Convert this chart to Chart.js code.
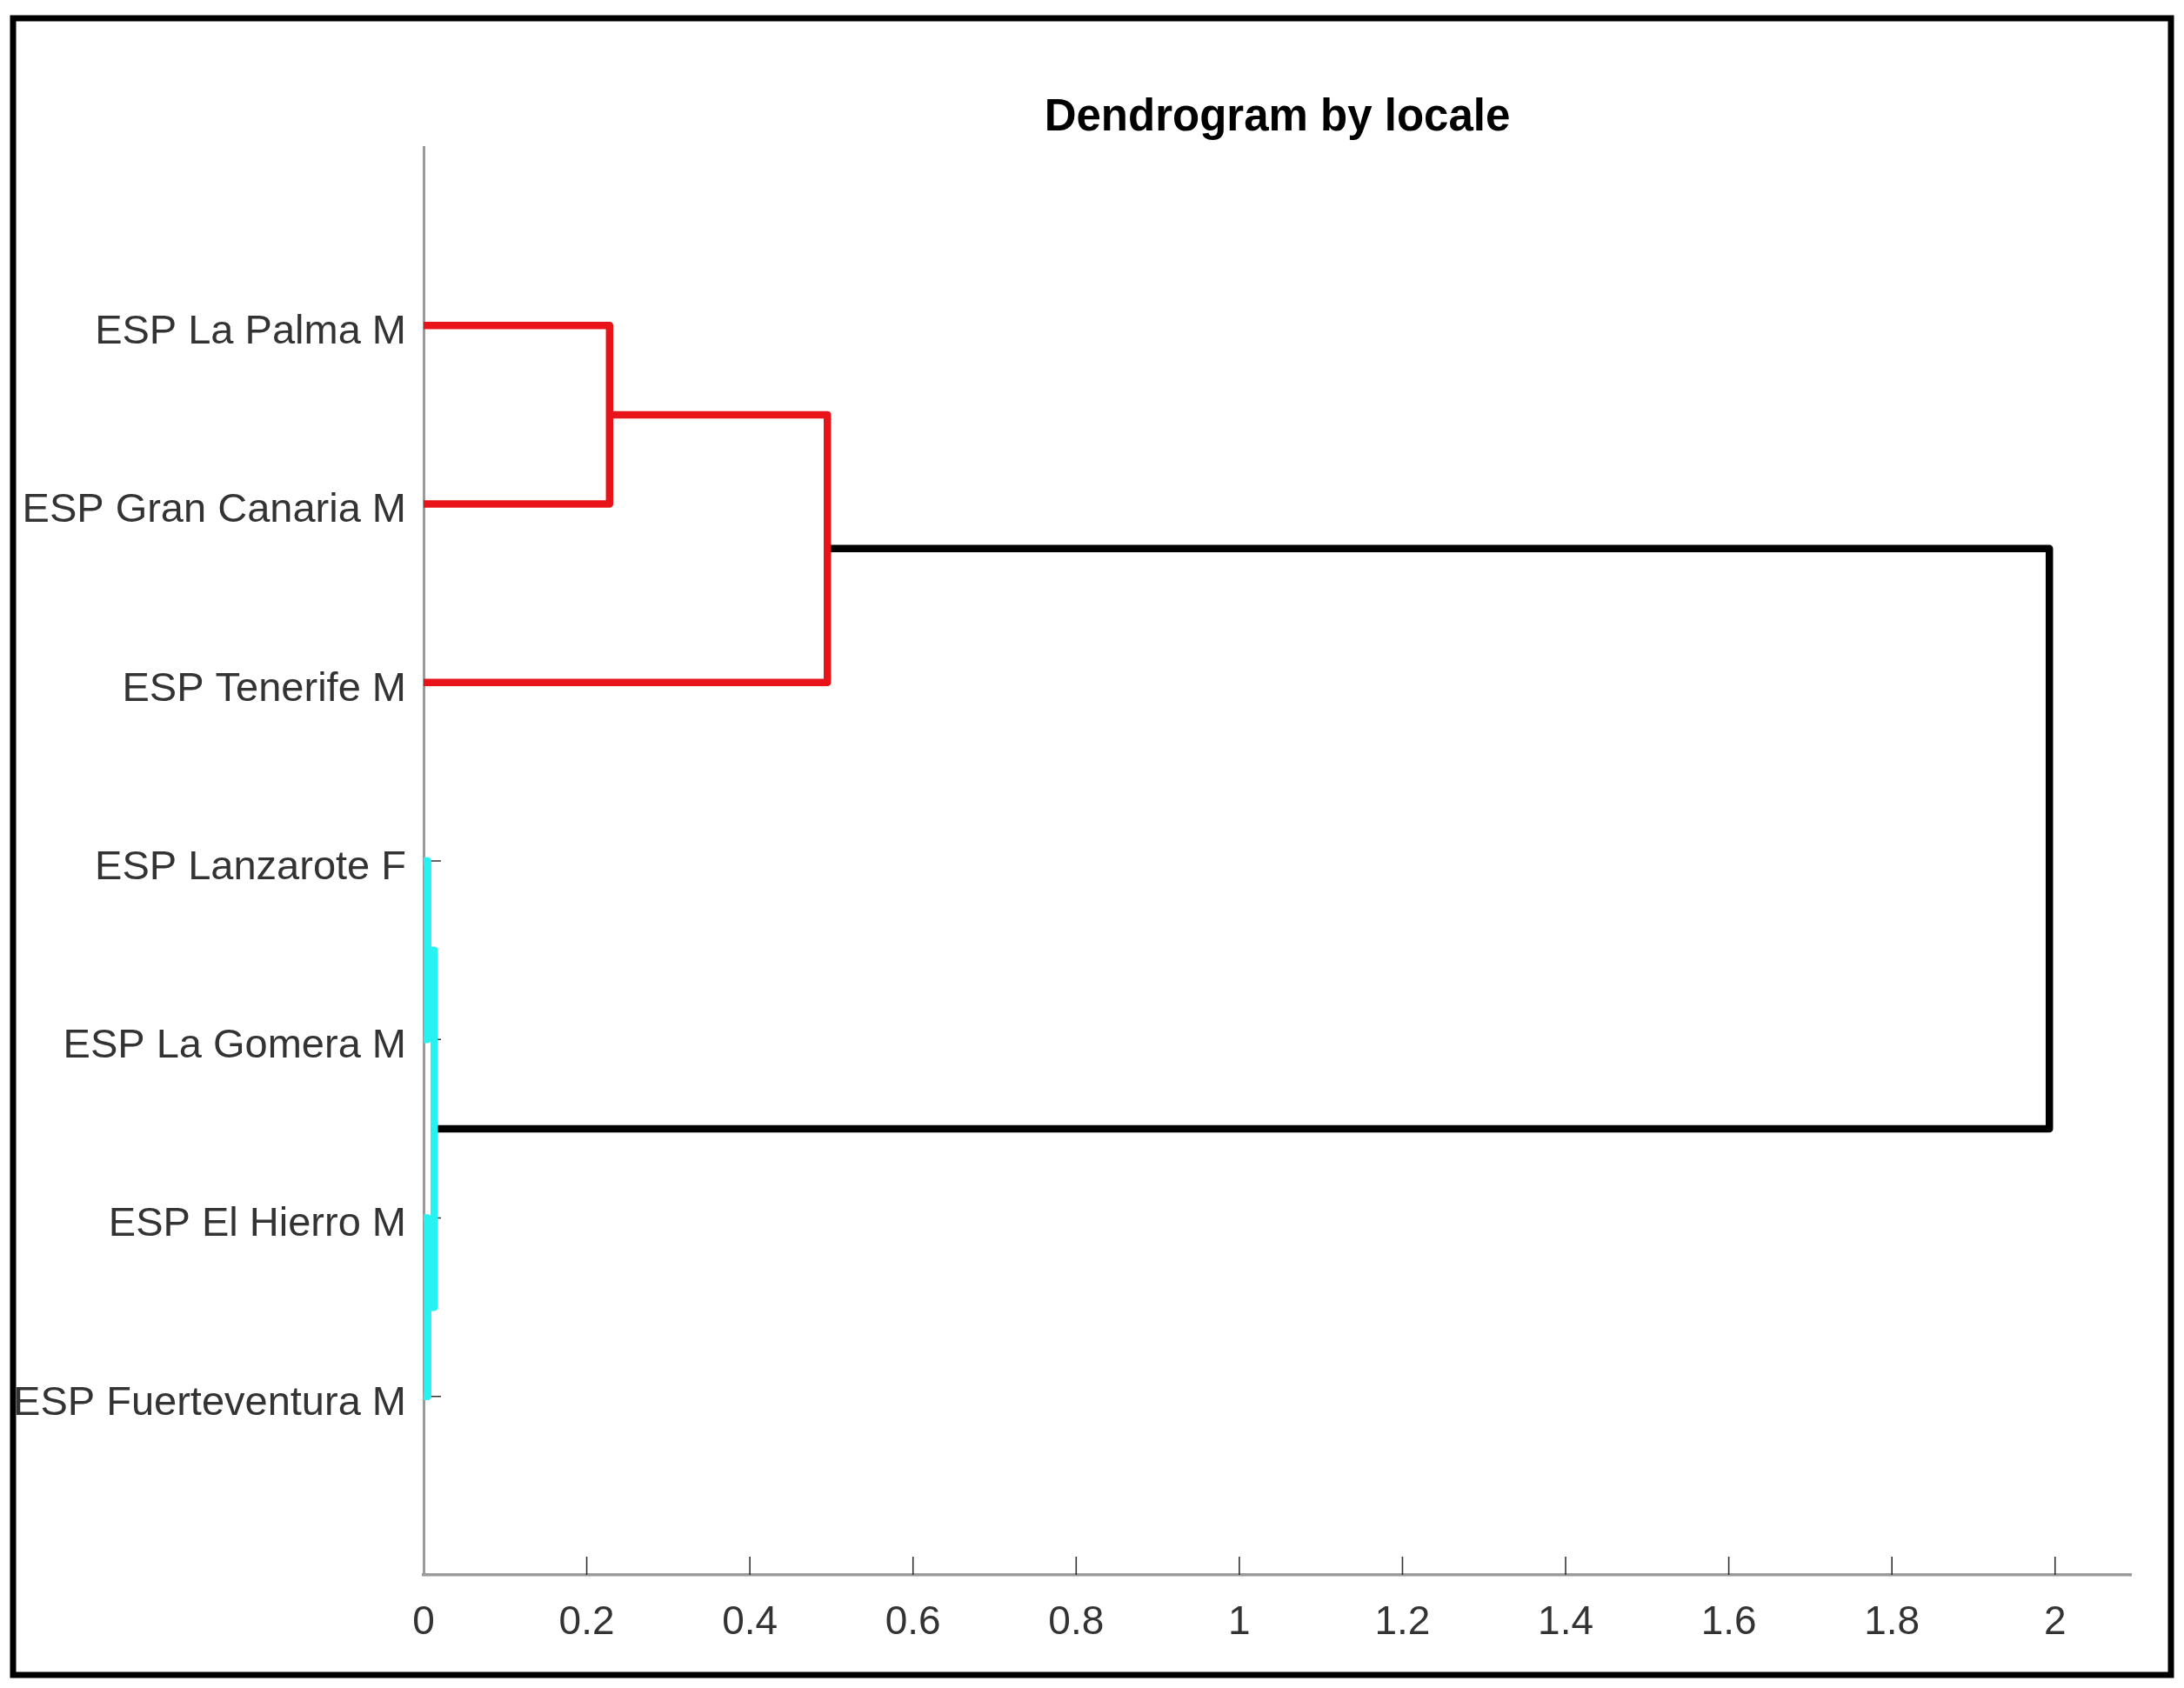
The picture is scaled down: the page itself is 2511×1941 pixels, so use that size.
<!DOCTYPE html>
<html>
<head>
<meta charset="utf-8">
<script src="https://cdn.jsdelivr.net/npm/chart.js@4.4.0/dist/chart.umd.min.js"></script>
<style>
  html, body { margin: 0; padding: 0; background: #ffffff; }
  #wrap { width: 2511px; height: 1941px; position: relative; }
</style>
</head>
<body>
<div id="wrap"><canvas id="c"></canvas></div>
<script>
// ---- data ----
const chartTitle = "Dendrogram by locale";
// leaves, listed bottom (position 1) to top (position 7)
const leafLabels = [
  "ESP Fuerteventura M",
  "ESP El Hierro M",
  "ESP La Gomera M",
  "ESP Lanzarote F",
  "ESP Tenerife M",
  "ESP Gran Canaria M",
  "ESP La Palma M"
];
// linkage: node ids 1..7 are leaves, 8.. are merged clusters (in order)
const linkLeft   = [4, 2, 8, 7, 11, 12];
const linkRight  = [3, 1, 9, 6, 5, 10];
const linkHeight = [0.005, 0.005, 0.013, 0.228, 0.495, 1.993];
const linkGroup  = ["B", "B", "B", "A", "A", "root"];
const xTickValues = [0, 0.2, 0.4, 0.6, 0.8, 1, 1.2, 1.4, 1.6, 1.8, 2];
const xLimit = 2.093;
const yLimit = 8;

// ---- styles ----
const groupColor = { A: "rgb(232,20,26)", B: "rgb(38,242,242)", root: "#000000" };
const FONT = "'Liberation Sans', Arial, Helvetica, sans-serif";

// ---- build node positions and U-shaped links ----
const nLeaves = leafLabels.length;
const nodeX = {}, nodeY = {};
for (let i = 1; i <= nLeaves; i++) { nodeX[i] = 0; nodeY[i] = i; }
const datasets = [];
for (let k = 0; k < linkHeight.length; k++) {
  const a = linkLeft[k], b = linkRight[k], h = linkHeight[k];
  const id = nLeaves + 1 + k;
  nodeX[id] = h;
  nodeY[id] = (nodeY[a] + nodeY[b]) / 2;
  datasets.push({
    data: [
      { x: nodeX[a], y: nodeY[a] },
      { x: h, y: nodeY[a] },
      { x: h, y: nodeY[b] },
      { x: nodeX[b], y: nodeY[b] }
    ],
    showLine: true,
    borderColor: groupColor[linkGroup[k]],
    backgroundColor: groupColor[linkGroup[k]],
    borderWidth: 8.5,
    borderJoinStyle: "round",
    borderCapStyle: "butt",
    pointRadius: 0,
    pointHoverRadius: 0,
    tension: 0,
    fill: false,
    clip: false
  });
}

// inward tick marks (MATLAB style), drawn under the links
const innerTicks = {
  id: "innerTicks",
  beforeDatasetsDraw(chart) {
    const ctx = chart.ctx, xs = chart.scales.x, ys = chart.scales.y;
    const area = chart.chartArea;
    ctx.save();
    ctx.strokeStyle = "#333333";
    ctx.lineWidth = 1.6;
    ctx.beginPath();
    xTickValues.forEach(v => {
      if (v === 0) return;
      const px = xs.getPixelForValue(v);
      ctx.moveTo(px, area.bottom);
      ctx.lineTo(px, area.bottom - 21);
    });
    for (let i = 1; i <= nLeaves; i++) {
      const py = ys.getPixelForValue(i);
      ctx.moveTo(area.left, py);
      ctx.lineTo(area.left + 20, py);
    }
    ctx.stroke();
    ctx.restore();
  }
};

// outer figure frame
const frame = {
  id: "frame",
  afterDraw(chart) {
    const ctx = chart.ctx;
    ctx.save();
    ctx.strokeStyle = "#000000";
    ctx.lineWidth = 7;
    ctx.strokeRect(15, 21, 2481, 1905);
    ctx.restore();
  }
};

new Chart(document.getElementById("c"), {
  type: "scatter",
  data: { datasets },
  options: {
    responsive: true,
    maintainAspectRatio: false,
    devicePixelRatio: 1,
    animation: false,
    events: [],
    layout: { padding: { left: 0, right: 61, top: 0, bottom: 0 } },
    plugins: {
      legend: { display: false },
      tooltip: { enabled: false },
      title: {
        display: true,
        text: chartTitle,
        fullSize: false,
        align: "center",
        color: "#000000",
        font: { family: FONT, size: 51, weight: "bold", lineHeight: 1.2 },
        padding: { top: 105, bottom: 2.8 }
      }
    },
    scales: {
      x: {
        type: "linear",
        min: 0,
        max: xLimit,
        afterFit(scale) { scale.height = 130; },
        afterBuildTicks(scale) { scale.ticks = xTickValues.map(v => ({ value: v })); },
        grid: { display: true, drawOnChartArea: false, drawTicks: false },
        border: { display: true, color: "#9a9a9a", width: 3.5 },
        ticks: {
          color: "#333333",
          padding: 28,
          maxRotation: 0,
          autoSkip: false,
          font: { family: FONT, size: 46 },
          callback: v => String(Math.round(v * 10) / 10)
        }
      },
      y: {
        type: "linear",
        min: 0,
        max: yLimit,
        afterFit(scale) { scale.width = 487; },
        grid: { display: true, drawOnChartArea: false, drawTicks: false },
        border: { display: true, color: "#9a9a9a", width: 3 },
        ticks: {
          stepSize: 1,
          autoSkip: false,
          color: "#333333",
          padding: 20,
          labelOffset: 8,
          font: { family: FONT, size: 47 },
          callback: v => (v >= 1 && v <= nLeaves && Number.isInteger(v)) ? leafLabels[v - 1] : ""
        }
      }
    }
  },
  plugins: [innerTicks, frame]
});
</script>
</body>
</html>
